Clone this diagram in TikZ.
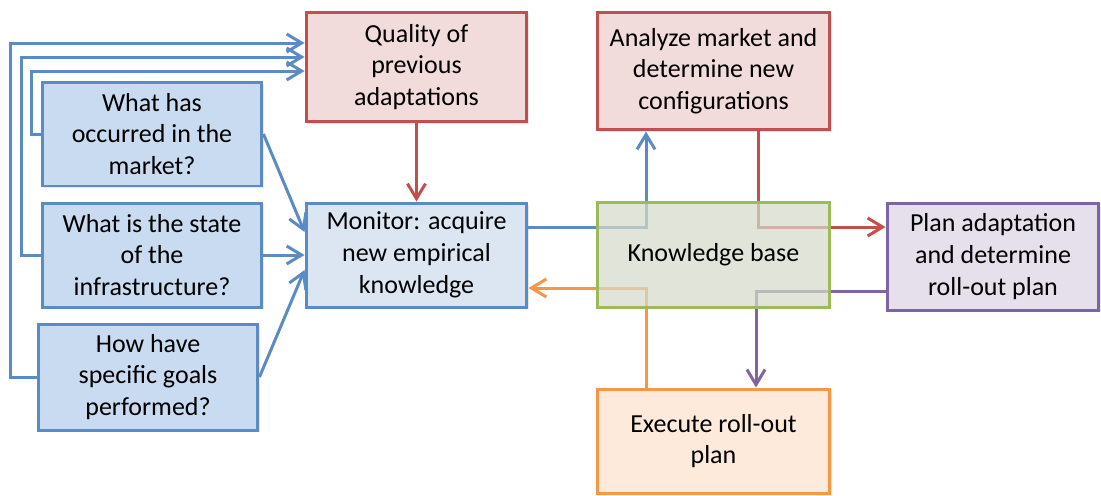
\documentclass[tikz,border=0pt]{standalone}
\usepackage{fontspec}
\setmainfont{Carlito}
\usetikzlibrary{arrows.meta,shadows}

\definecolor{kred}{HTML}{C0504D}
\definecolor{kredfill}{HTML}{F2DCDB}
\definecolor{kblue}{HTML}{5B8BC4}
\definecolor{kbluefill}{HTML}{C9DBF0}
\definecolor{kmonfill}{HTML}{DCE6F2}
\definecolor{kgreen}{HTML}{9BBB59}
\definecolor{kgreenfill}{HTML}{D6DACB}
\definecolor{kpurple}{HTML}{8064A2}
\definecolor{kpurplefill}{HTML}{E5E0EC}
\definecolor{korange}{HTML}{F79646}
\definecolor{korangefill}{HTML}{FDEADA}

\tikzstyle{plain} = [draw, rectangle, line width=0.06cm, align=center, inner sep=0pt,
                     font=\fontsize{14.8}{18.1}\selectfont]
\tikzstyle{box}  = [plain, drop shadow={opacity=0.18,shadow xshift=0.04cm,shadow yshift=-0.04cm}]
\tikzstyle{ask}  = [box, draw=kblue, fill=kbluefill, minimum width=4.4cm, minimum height=2.08cm]
\tikzstyle{look} = [box, draw=kred, fill=kredfill]
\tikzstyle{flow} = [-{Straight Barb[length=0.3cm,width=0.36cm]}, line width=0.06cm]

\begin{document}
\begin{tikzpicture}[x=0.02cm,y=-0.02cm]
  \useasboundingbox (0,0) rectangle (1101,495);
  \node at (416.5,67) (qual) [look, minimum width=4.42cm, minimum height=2.2cm] {Quality of\\previous\\adaptations};
  \node at (713.5,71) (anal) [look, minimum width=4.66cm, minimum height=2.36cm] {Analyze market and\\determine new\\configurations};
  \node at (152,134) (occ)   [ask] {What has\\occurred in the\\market?};
  \node at (152,255) (state) [ask] {What is the state\\of the\\infrastructure?};
  \node at (148,377) (goals) [ask, minimum height=2.12cm] {How have\\specific goals\\performed?};
  \node at (416.5,255) (mon) [box, draw=kblue, fill=kmonfill, minimum width=4.42cm, minimum height=2.08cm] {Monitor: acquire\\new empirical\\knowledge};
  \node at (993,256.5) (plan) [box, draw=kpurple, fill=kpurplefill, minimum width=4.24cm, minimum height=2.14cm] {Plan adaptation\\and determine\\roll-out plan};
  \node at (713.5,441) (exec) [box, draw=korange, fill=korangefill, minimum width=4.66cm, minimum height=2.08cm] {Execute roll-out\\plan};
  % questions feed the monitor
  \draw[flow, kblue] (occ.east) -- ([yshift=0.46cm]mon.west);
  \draw[flow, kblue] (state.east) -- (mon.west);
  \draw[flow, kblue] (goals.east) -- ([yshift=-0.3cm]mon.west);
  \draw[flow, kblue] (occ.west) -- ++(-9,0) |- ([yshift=-0.08cm]qual.west);
  \draw[flow, kblue] (state.west) -- ++(-19,0) |- ([yshift=0.2cm]qual.west);
  \draw[flow, kblue] (goals.west) -- ++(-26,0) |- ([yshift=0.48cm]qual.west);
  \draw[flow, kred] (qual) -- (mon);
  % the loop round the knowledge base
  \draw[flow, kblue] ([yshift=0.56cm]mon.east) -| ([xshift=-1.35cm]anal.south);
  \draw[flow, kred] ([xshift=0.89cm]anal.south) |- ([yshift=0.59cm]plan.west);
  \draw[flow, kpurple] ([yshift=-0.69cm]plan.west) -| ([xshift=0.85cm]exec.north);
  \draw[flow, korange] ([xshift=-1.35cm]exec.north) |- ([yshift=-0.66cm]mon.east);
  \node at (713.5,254.5) (kb) [plain, draw=kgreen, fill=kgreenfill, fill opacity=0.72, text opacity=1, minimum width=4.66cm, minimum height=2.1cm] {Knowledge base};
\end{tikzpicture}
\end{document}
